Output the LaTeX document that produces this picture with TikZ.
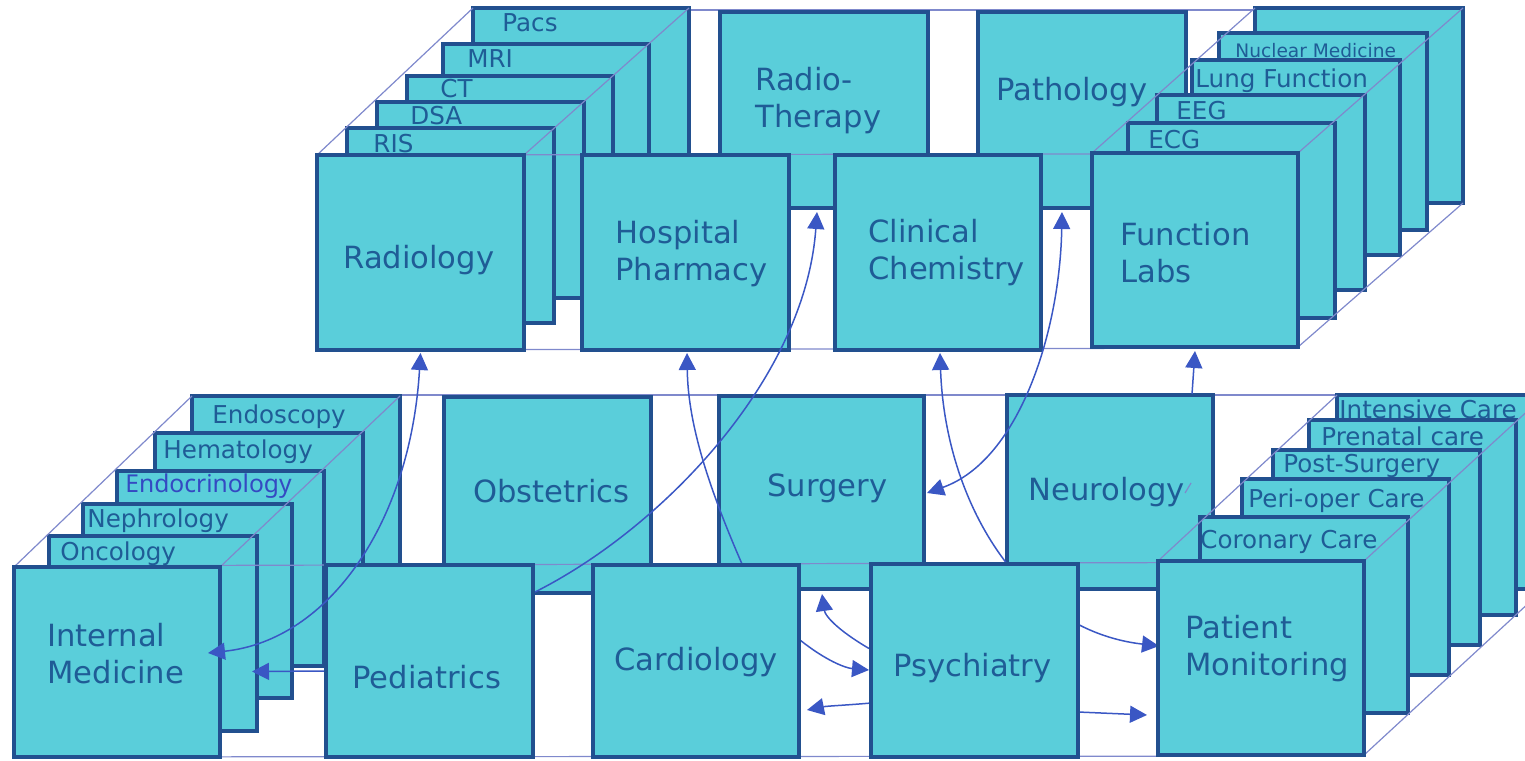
\documentclass[tikz,border=0pt]{standalone}
\usepackage{fontspec}
\setmainfont{DejaVu Sans}
\newfontfamily\endofont{Noto Sans}
\usetikzlibrary{arrows.meta,calc}
\definecolor{boxfill}{HTML}{5ACEDA}
\definecolor{boxline}{HTML}{22508F}
\definecolor{txt}{HTML}{1F5C96}
\definecolor{arrc}{HTML}{3A57C4}
\definecolor{thinc}{HTML}{7F89CC}
\definecolor{endoc}{HTML}{3449C2}
\pgfdeclarelayer{back}
\pgfdeclarelayer{mid}
\pgfdeclarelayer{over}
\pgfsetlayers{back,mid,main,over}
\newcommand{\deptbox}[5]{\node[dept, minimum width={(#4-#2)*0.5pt}, minimum height={(#5-#3)*0.5pt}] (#1) at ({(#2+#4)/2},{(#3+#5)/2}) {};}
\begin{document}
\begin{tikzpicture}[x=0.5pt,y=-0.5pt,
  dept/.style={draw=boxline, fill=boxfill, line width=1.6pt, inner sep=0pt, outer sep=0pt, rectangle},
  lbl/.style={text=txt, font=\fontsize{15.3}{18.5}\selectfont, inner sep=0pt, anchor=base west, align=left},
  stk/.style={text=txt, font=\fontsize{12.3}{14}\selectfont, inner sep=0pt, anchor=base west},
  thinl/.style={draw=thinc, line width=0.6pt},
  conn/.style={draw=arrc, line width=0.75pt, >={Triangle[length=8.5pt,width=8.5pt]}},
]
\useasboundingbox (0,0) rectangle (1525,760);
\clip (0,0) rectangle (1525,760);

\begin{pgfonlayer}{back}
% ================= TOP GROUP =================
\draw[thinl] (473,10) -- (1463,10);
\deptbox{pacs}{473}{8}{689}{205}
\deptbox{rt}{720}{12}{928}{208}
\deptbox{path}{978}{12}{1186}{208}
\deptbox{blank}{1255}{8}{1463}{203}
\deptbox{mri}{443}{44}{649}{240}
\deptbox{nuc}{1219}{33}{1427}{230}
\deptbox{ct}{407}{76}{613}{272}
\deptbox{lung}{1192}{60}{1400}{255}
\deptbox{dsa}{377}{102}{584}{298}
\deptbox{eeg}{1157}{95}{1365}{290}
\deptbox{ris}{347}{128}{554}{323}
\deptbox{ecg}{1128}{123}{1335}{318}
\draw[thinl] (317,155) -- (473,8);
\draw[thinl] (524,155) -- (689,8);
\draw[thinl] (1092,153) -- (1255,8);
\draw[thinl] (1298,153) -- (1463,8);
\draw[thinl] (1298,347) -- (1463,203);
\draw[thinl] (317,155) -- (1092,154);
\draw[thinl] (317,350) -- (1298,348);
\deptbox{rad}{317}{155}{524}{350}
\deptbox{hp}{582}{155}{789}{350}
\deptbox{cc}{835}{155}{1041}{350}
\deptbox{fl}{1092}{153}{1298}{347}

% ================= BOTTOM GROUP (back part) =================
\draw[thinl] (192,395) -- (1525,395);
\deptbox{endo}{192}{396}{400}{600}
\deptbox{obst}{444}{397}{651}{593}
\deptbox{surg}{719}{396}{924}{589}
\deptbox{neuro}{1007}{395}{1213}{589}
\deptbox{ic}{1337}{395}{1545}{589}
\deptbox{hema}{155}{433}{363}{633}
\deptbox{pren}{1309}{420}{1516}{615}
\deptbox{endocr}{117}{471}{324}{666}
\deptbox{posts}{1273}{450}{1480}{645}
\deptbox{neph}{83}{504}{292}{698}
\deptbox{peri}{1242}{479}{1449}{675}
\deptbox{onc}{49}{536}{257}{731}
\deptbox{coron}{1200}{517}{1408}{713}
\draw[thinl] (14,567) -- (192,396);
\draw[thinl] (220,567) -- (400,396);
\draw[thinl] (1158,561) -- (1337,395);
\draw[thinl] (1364,561) -- (1545,395);
\draw[thinl] (1364,755) -- (1545,588);
\draw[thinl] (14,566) -- (1364,562);
\draw[thinl] (14,757) -- (1364,756);
\draw[thinl] (1185,493) -- (1191,483);
\end{pgfonlayer}

% ================= BOTTOM GROUP (front row) =================
\deptbox{im}{14}{567}{220}{757}
\deptbox{ped}{326}{565}{533}{757}
\deptbox{card}{593}{565}{799}{757}
\deptbox{psych}{871}{564}{1078}{757}
\deptbox{pm}{1158}{561}{1364}{755}

% connectors behind the front row
\begin{pgfonlayer}{mid}
\draw[conn,->] ($(ped.west)+(0,10)$) -- ($(onc.east)+(-5,38)$);
\draw[conn,->] ($(ped.north east)+(0,28)$) .. controls +(127,-63) and +(-12,168) .. ($(rt.south)+(-7,4)$);
\draw[conn,->] ($(card.north)+(46,-1)$) .. controls +(-37,-85) and +(1,67) .. ($(hp.south)+(1.5,3)$);
\draw[conn,<->] ($(cc.south)+(2,3)$) .. controls +(5,147) and +(-139,-16) .. ($(pm.west)+(1,-12)$);
\draw[conn,<->] ($(path.south)+(-20,4)$) .. controls +(-2,118) and +(93,-33) .. ($(surg.east)+(3,0.5)$);
\draw[conn,->] ($(neuro.north)+(82,-1)$) -- ($(fl.south)+(0,4)$);
\draw[conn,->] ($(psych.west)+(-2,-12)$) .. controls +(-34,-20) and +(3,21) .. ($(surg.south)+(0.5,5)$);
\draw[conn,->] ($(card.east)+(1,-21)$) .. controls +(25,20) and +(-24,-2) .. ($(psych.west)+(-2,9.5)$);
\draw[conn,->] ($(psych.west)+(0,42.5)$) .. controls +(-22,2) and +(20,-4) .. ($(card.east)+(8,49)$);
\draw[conn,->] ($(psych.east)+(0,51.5)$) -- ($(pm.west)+(-11,57)$);
\end{pgfonlayer}

% ================= LABELS =================
\node[stk] (pacsT) at (502,32) {Pacs};
\node[stk] (mriT) at (467,67) {MRI};
\node[stk] (ctT) at (440,97) {CT};
\node[stk] (dsaT) at (410,124) {DSA};
\node[stk] (risT) at (373,152) {RIS};
\node[stk, font=\fontsize{9.3}{11}\selectfont] (nucT) at (1235,57) {Nuclear Medicine};
\node[stk] (lungT) at (1195,87) {Lung Function};
\node[stk] (eegT) at (1176,119) {EEG};
\node[stk] (ecgT) at (1148,148) {ECG};
\node[lbl] (rtT) at (755,127) {Radio-\\Therapy};
\node[lbl] (pathT) at (996,100) {Pathology};
\node[lbl] (radT) at (343,268) {Radiology};
\node[lbl] (hpT) at (615,280) {Hospital\\Pharmacy};
\node[lbl] (ccT) at (868,279) {Clinical\\Chemistry};
\node[lbl] (flT) at (1120,282) {Function\\Labs};

\node[stk] (endoT) at (212,423) {Endoscopy};
\node[stk] (hemaT) at (163,458) {Hematology};
\node[stk, font=\endofont\fontsize{12.3}{14}\selectfont, text=endoc] (endocrT) at (125,492) {Endocrinology};
\node[stk] (nephT) at (87,527) {Nephrology};
\node[stk] (oncT) at (60,560) {Oncology};
\node[stk] (icT) at (1339,418) {Intensive Care};
\node[stk] (prenT) at (1321,445) {Prenatal care};
\node[stk] (postsT) at (1283,472) {Post-Surgery};
\node[stk] (periT) at (1248,507) {Peri-oper Care};
\node[stk] (coronT) at (1200,548) {Coronary Care};
\node[lbl] (obstT) at (473,502) {Obstetrics};
\node[lbl] (surgT) at (767,496) {Surgery};
\node[lbl] (neuroT) at (1028,500) {Neurology};
\node[lbl] (imT) at (47,683) {Internal\\Medicine};
\node[lbl] (pedT) at (352,688) {Pediatrics};
\node[lbl] (cardT) at (614,670) {Cardiology};
\node[lbl] (psychT) at (893,676) {Psychiatry};
\node[lbl] (pmT) at (1185,675) {Patient\\Monitoring};

% connector drawn over everything
\begin{pgfonlayer}{over}
\draw[conn,<->] ($(rad.south)+(0,3)$) .. controls +(-10,168) and +(122,-13) .. ($(im.east)+(-12,-9)$);
\end{pgfonlayer}
\end{tikzpicture}
\end{document}
